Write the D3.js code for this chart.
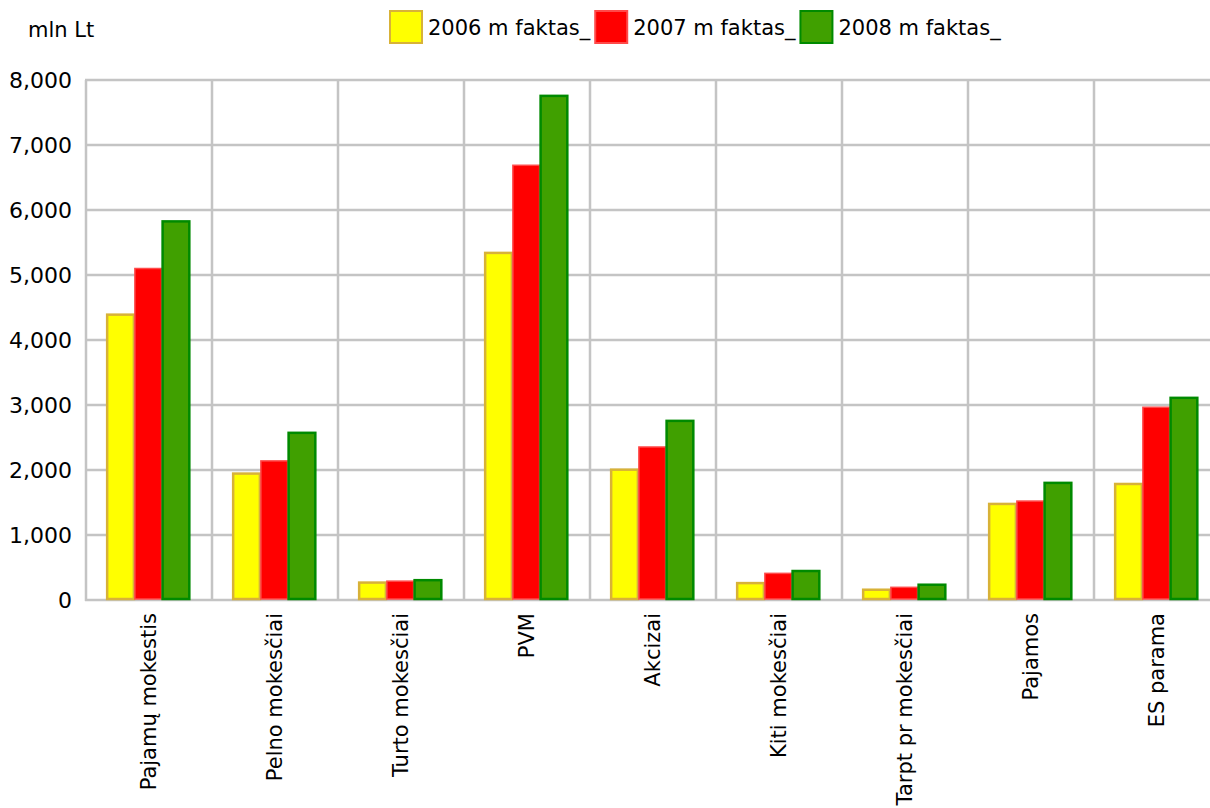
<!DOCTYPE html>
<html>
<head>
<meta charset="utf-8">
<script src="https://cdn.jsdelivr.net/npm/d3@7/dist/d3.min.js"></script>
<style>
  html, body { margin: 0; padding: 0; background: #fff; }
  svg { display: block; font-family: "DejaVu Sans", Verdana, sans-serif; }
</style>
</head>
<body>
<svg id="chart" width="1210" height="808"></svg>
<script>
const categories = ['Pajamų mokestis', 'Pelno mokesčiai', 'Turto mokesčiai', 'PVM', 'Akcizai',
  'Kiti mokesčiai', 'Tarpt pr mokesčiai', 'Pajamos', 'ES parama'];
const seriesNames = ['2006 m faktas_', '2007 m faktas_', '2008 m faktas_'];
const values2006 = [4390, 1945, 268, 5340, 2005, 260, 158, 1478, 1785];
const values2007 = [5100, 2140, 290, 6688, 2354, 410, 195, 1522, 2965];
const values2008 = [5825, 2572, 305, 7756, 2756, 446, 235, 1802, 3110];
const yTicks = [0, 1000, 2000, 3000, 4000, 5000, 6000, 7000, 8000];

const fills = ['#ffff00', '#ff0000', '#40a000'];
const strokes = ['#d8b238', '#ff4a4a', '#008a00'];
const seriesValues = [values2006, values2007, values2008];

const svg = d3.select('#chart');
const m = { left: 86, top: 80, bottom: 600, right: 1220 };

const x = d3.scaleBand().domain(categories).range([m.left, m.right]).padding(0);
const y = d3.scaleLinear().domain([0, 8000]).range([m.bottom, m.top]);
const bw = x.bandwidth();
const xs = d3.scaleBand().domain(d3.range(seriesNames.length))
  .range([bw * 0.16, bw * 0.82]).padding(0);

// grid
const grid = svg.append('g').attr('stroke', '#c4c4c4').attr('stroke-width', 2.5);
grid.selectAll('.h').data(yTicks).enter().append('line')
  .attr('x1', m.left - 1).attr('x2', m.right)
  .attr('y1', d => y(d)).attr('y2', d => y(d));
grid.selectAll('.v').data(categories.concat(['__end'])).enter().append('line')
  .attr('x1', (d, i) => m.left + i * bw).attr('x2', (d, i) => m.left + i * bw)
  .attr('y1', m.top).attr('y2', m.bottom + 1);

// bars
const groups = svg.append('g').selectAll('g').data(categories).enter().append('g')
  .attr('transform', d => `translate(${x(d)},0)`);
seriesNames.forEach((s, si) => {
  groups.append('rect')
    .attr('x', xs(si) + 1)
    .attr('width', xs.bandwidth() - 1)
    .attr('y', (d, i) => y(seriesValues[si][i]))
    .attr('height', (d, i) => y(0) - y(seriesValues[si][i]) - 1)
    .attr('fill', fills[si])
    .attr('stroke', strokes[si])
    .attr('stroke-width', si === 1 ? 1.5 : 2.5);
});

// y labels
svg.append('g').selectAll('text').data(yTicks).enter().append('text')
  .attr('x', 72).attr('y', d => y(d)).attr('dy', '0.36em')
  .attr('text-anchor', 'end').attr('font-size', 22).attr('fill', '#000')
  .text(d3.format(','));

// x labels
svg.append('g').selectAll('text').data(categories).enter().append('text')
  .attr('transform', d => `translate(${x(d) + bw / 2 + 7},613) rotate(-90)`)
  .attr('text-anchor', 'end').attr('font-size', 21).attr('fill', '#000')
  .text(d => d);

// unit label
svg.append('text').attr('x', 28).attr('y', 37).attr('font-size', 21).attr('fill', '#000').text('mln Lt');

// legend
let lx = 389;
seriesNames.forEach((s, si) => {
  svg.append('rect').attr('x', lx + 1).attr('y', 11).attr('width', 32).attr('height', 32)
    .attr('fill', fills[si]).attr('stroke', strokes[si]).attr('stroke-width', 2);
  const t = svg.append('text').attr('x', lx + 39).attr('y', 35).attr('font-size', 21)
    .attr('fill', '#000').text(s);
  lx += 39 + t.node().getComputedTextLength() + 4;
});
</script>
</body>
</html>
